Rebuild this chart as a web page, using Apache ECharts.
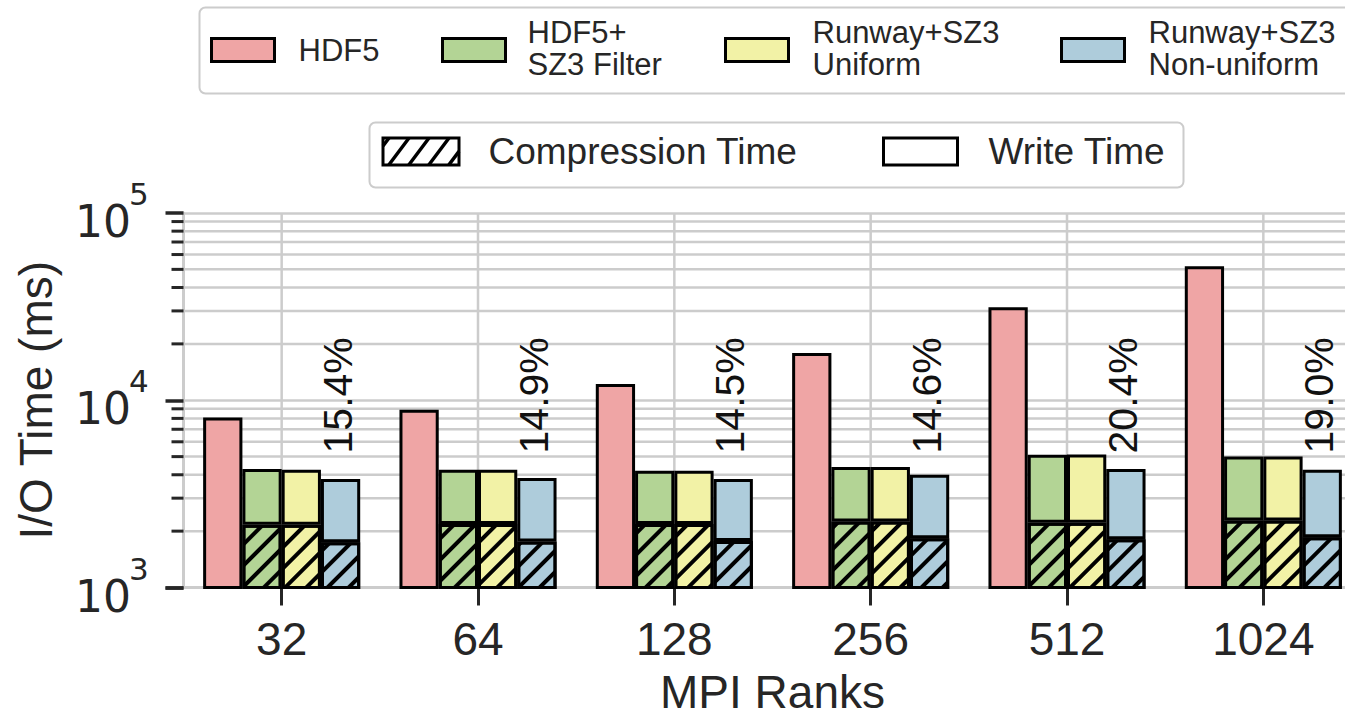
<!DOCTYPE html>
<html><head><meta charset="utf-8">
<script src="https://cdn.jsdelivr.net/npm/echarts@6/dist/echarts.min.js"></script>
<style>html,body{margin:0;padding:0;background:#fff}#c{width:1345px;height:718px}</style>
</head><body><div id="c"></div>
<script>
// ---------- data ----------
const ranks = ['32', '64', '128', '256', '512', '1024'];
const hdf5Time = [8100, 8900, 12200, 17900, 31400, 52000];
const filterComp = [2160, 2180, 2180, 2250, 2220, 2280];
const filterWrite = [2130, 2070, 2020, 2150, 2890, 2730];
const uniformComp = [2160, 2180, 2180, 2250, 2220, 2280];
const uniformWrite = [2090, 2070, 2020, 2150, 2910, 2730];
const nonuniComp = [1745, 1760, 1770, 1830, 1810, 1855];
const nonuniWrite = [2055, 2080, 2030, 2170, 2480, 2395];
const pctLabels = ['15.4%', '14.9%', '14.5%', '14.6%', '20.4%', '19.0%'];
const yMajorTicks = [1000, 10000, 100000];
const yTickExp = ['3', '4', '5'];
const yMinorTicks = [2000, 3000, 4000, 5000, 6000, 7000, 8000, 9000, 20000, 30000, 40000, 50000, 60000, 70000, 80000, 90000];
const legendNames = ['HDF5', 'HDF5+\nSZ3 Filter', 'Runway+SZ3\nUniform', 'Runway+SZ3\nNon-uniform'];
const legendNames2 = ['Compression Time', 'Write Time'];

// ---------- style ----------
const FONT = "'Liberation Sans', Arial, Helvetica, sans-serif";
const MATHFONT = "'DejaVu Sans', 'Liberation Sans', sans-serif";
const TXT = '#262626';
const GRID = '#cccccc';
const colors = ['#efa5a5', '#b3d495', '#f2f2a6', '#aeccdb'];
const labelAnchor = 5200;
const hatch = { symbol: 'rect', symbolSize: 1, dashArrayX: [1, 0], dashArrayY: [4, 11], rotation: -Math.PI / 4, color: '#000' };
const border = { borderColor: '#000', borderWidth: 3 };

function bar(name, data, color, stack, decal) {
  const s = {
    type: 'bar', name, data, barWidth: '20%', barGap: '0%',
    itemStyle: Object.assign({ color }, border, decal ? { decal } : {}),
    z: 2
  };
  if (stack) s.stack = stack;
  return s;
}

const series = [
  bar('HDF5', hdf5Time, colors[0], null, null),
  bar('HDF5+SZ3 Filter comp', filterComp, colors[1], 'f', hatch),
  bar('HDF5+SZ3 Filter write', filterWrite, colors[1], 'f', null),
  bar('Uniform comp', uniformComp, colors[2], 'u', hatch),
  bar('Uniform write', uniformWrite, colors[2], 'u', null),
  bar('Non-uniform comp', nonuniComp, colors[3], 'n', hatch),
  bar('Non-uniform write', nonuniWrite, colors[3], 'n', null),
  {
    // vertical grid at categories, minor horizontal grid and minor ticks
    type: 'custom', name: 'grid', z: 1, silent: true,
    data: ranks.map((r, i) => [i, 1000]), encode: { x: 0, y: 1 },
    renderItem(params, api) {
      const cs = params.coordSys;
      const x = api.coord([api.value(0), 1000])[0];
      const ch = [{ type: 'line', shape: { x1: x, y1: cs.y, x2: x, y2: cs.y + cs.height }, style: { stroke: GRID, lineWidth: 2.5 } }];
      if (params.dataIndex === 0) {
        yMinorTicks.forEach(v => {
          const y = api.coord([0, v])[1];
          ch.push({ type: 'line', shape: { x1: cs.x, y1: y, x2: cs.x + cs.width, y2: y }, style: { stroke: GRID, lineWidth: 2.5 } });
          ch.push({ type: 'line', shape: { x1: cs.x - 12, y1: y, x2: cs.x, y2: y }, style: { stroke: TXT, lineWidth: 3 } });
        });
      }
      return { type: 'group', children: ch };
    }
  },
  {
    // y tick labels 10^n with superscript
    type: 'custom', name: 'ylabels', z: 5, silent: true,
    data: yMajorTicks.map(v => [0, v]), encode: { x: 0, y: 1 },
    renderItem(params, api) {
      const cs = params.coordSys;
      const y = api.coord([0, api.value(1)])[1];
      return { type: 'group', children: [
        { type: 'text', x: cs.x - 52.5, y: y + 8.5, style: { text: '10', fontSize: 44, fontFamily: MATHFONT, fill: TXT, align: 'right', verticalAlign: 'middle' } },
        { type: 'text', x: cs.x - 54.5, y: y - 19, style: { text: yTickExp[params.dataIndex], fontSize: 31, fontFamily: MATHFONT, fill: TXT, align: 'left', verticalAlign: 'middle' } }
      ] };
    }
  },
  {
    type: 'custom', name: 'pct', z: 5, silent: true,
    data: ranks.map((r, i) => [i, labelAnchor]), encode: { x: 0, y: 1 },
    renderItem(params, api) {
      const p = api.coord([api.value(0), api.value(1)]);
      return {
        type: 'text', x: p[0] + 56, y: p[1], rotation: Math.PI / 2,
        style: { text: pctLabels[params.dataIndex], fontSize: 41, fontFamily: FONT, fill: '#111', align: 'left', verticalAlign: 'middle' }
      };
    }
  }
];

// ---------- legends (graphic) ----------
const g = [];
g.push({ type: 'rect', shape: { x: 199.5, y: 7.5, width: 1250, height: 86, r: 6 }, style: { fill: '#fff', stroke: GRID, lineWidth: 2 } });
const sw1X = [211.5, 442.5, 725.5, 1061.5];
const tx1X = [298.5, 527.5, 812.5, 1148.5];
legendNames.forEach((n, i) => {
  g.push({ type: 'rect', shape: { x: sw1X[i], y: 38.5, width: 63, height: 23 }, style: { fill: colors[i], stroke: '#000', lineWidth: 3 } });
  g.push({ type: 'text', x: tx1X[i], y: n.indexOf('\n') >= 0 ? 48 : 50,
    style: { text: n, fontSize: 31, fontFamily: FONT, fill: TXT, lineHeight: 32, align: 'left', verticalAlign: 'middle' } });
});
g.push({ type: 'rect', shape: { x: 369.5, y: 122.5, width: 814, height: 65, r: 6 }, style: { fill: '#fff', stroke: GRID, lineWidth: 2 } });
// hatch swatch
const hx = 383, hy = 138, hw = 76, hh = 27, hdx = 20;
const slope = 0.75;
g.push({ type: 'rect', shape: { x: hx, y: hy, width: hw, height: hh }, style: { fill: '#fff' } });
for (let k = hx - hh * slope + 6; k < hx + hw; k += hdx) {
  const t0 = Math.max(0, (hx - k) / slope), t1 = Math.min(hh, (hx + hw - k) / slope);
  if (t1 > t0) g.push({ type: 'line', shape: { x1: k + t0 * slope, y1: hy + hh - t0, x2: k + t1 * slope, y2: hy + hh - t1 }, style: { stroke: '#000', lineWidth: 3.5 } });
}
g.push({ type: 'rect', shape: { x: hx, y: hy, width: hw, height: hh }, style: { fill: 'none', stroke: '#000', lineWidth: 3 } });
g.push({ type: 'text', x: 488.5, y: 151.5, style: { text: legendNames2[0], fontSize: 37, fontFamily: FONT, fill: TXT, align: 'left', verticalAlign: 'middle' } });
g.push({ type: 'rect', shape: { x: 883.5, y: hy, width: 74, height: hh }, style: { fill: '#fff', stroke: '#000', lineWidth: 3 } });
g.push({ type: 'text', x: 988.5, y: 151.5, style: { text: legendNames2[1], fontSize: 37, fontFamily: FONT, fill: TXT, align: 'left', verticalAlign: 'middle' } });

const chart = echarts.init(document.getElementById('c'), null, { renderer: 'svg' });
chart.setOption({
  animation: false,
  backgroundColor: '#fff',
  textStyle: { fontFamily: FONT },
  grid: { left: 183.5, top: 213, width: 1178, height: 374.5, containLabel: false, outerBoundsMode: 'none' },
  xAxis: {
    type: 'category', data: ranks, boundaryGap: true,
    axisLine: { show: true, lineStyle: { color: GRID, width: 3 } },
    axisTick: { show: true, alignWithLabel: true, length: 18, lineStyle: { color: TXT, width: 3 } },
    axisLabel: { interval: 0, fontSize: 46, color: TXT, fontFamily: FONT, margin: 28 },
    splitLine: { show: false },
    name: 'MPI Ranks', nameLocation: 'middle', nameGap: 86,
    nameTextStyle: { fontSize: 46, lineHeight: 36, color: TXT, fontFamily: FONT }
  },
  yAxis: {
    type: 'log', logBase: 10, min: 1000, max: 100000,
    axisLine: { show: true, lineStyle: { color: GRID, width: 3 } },
    axisTick: { show: true, length: 18, lineStyle: { color: TXT, width: 3.5 } },
    splitLine: { show: true, lineStyle: { color: GRID, width: 2.5 } },
    minorTick: { show: false }, minorSplitLine: { show: false },
    axisLabel: { show: false },
    name: 'I/O Time (ms)', nameLocation: 'middle', nameGap: 125,
    nameTextStyle: { fontSize: 46, color: TXT, fontFamily: FONT }
  },
  series,
  graphic: { elements: g }
});
</script>
</body></html>
